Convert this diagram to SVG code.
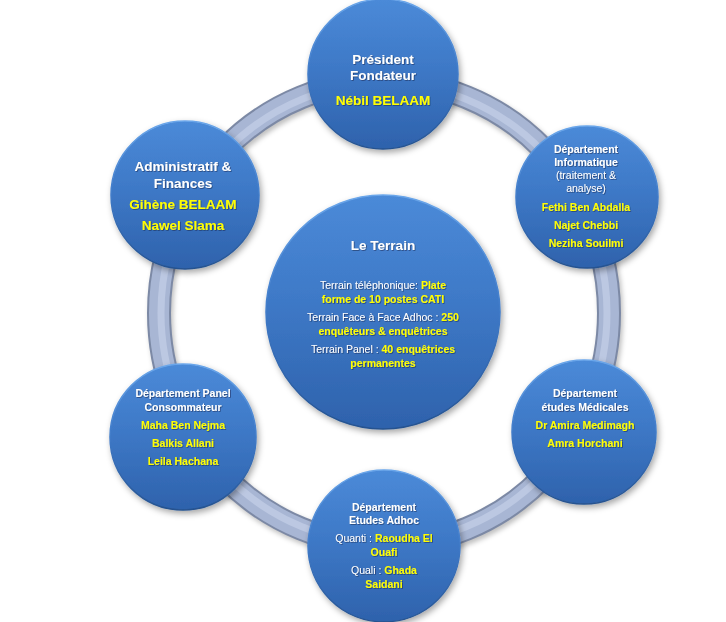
<svg xmlns="http://www.w3.org/2000/svg" width="726" height="622" viewBox="0 0 726 622">
<defs>
<linearGradient id="ball" x1="0" y1="0" x2="0" y2="1">
<stop offset="0" stop-color="#4b8ad8"/>
<stop offset="0.45" stop-color="#3e79c7"/>
<stop offset="1" stop-color="#2e62ac"/>
</linearGradient>
<linearGradient id="rim" x1="0" y1="0" x2="0" y2="1">
<stop offset="0" stop-color="#6aa6ea"/>
<stop offset="0.5" stop-color="#3f7ac8"/>
<stop offset="1" stop-color="#25528f"/>
</linearGradient>
<filter id="shadow" x="-20%" y="-20%" width="140%" height="140%">
<feDropShadow dx="2" dy="3" stdDeviation="3" flood-color="#000" flood-opacity="0.35"/>
</filter>
<filter id="ringshadow" x="-10%" y="-10%" width="120%" height="120%">
<feGaussianBlur stdDeviation="2.5"/>
</filter>
<filter id="ts" x="-10%" y="-30%" width="120%" height="160%">
<feDropShadow dx="0.8" dy="0.8" stdDeviation="0.5" flood-color="#0a1f40" flood-opacity="0.6"/>
</filter>
<style>
.node circle{fill:url(#ball);stroke:url(#rim);stroke-width:1.5;filter:url(#shadow)}
text{font-family:"Liberation Sans",Arial,sans-serif;text-anchor:middle;fill:#ffffff;filter:url(#ts)}
.b{font-weight:bold}
.y{fill:#ffff00;font-weight:bold}
.big{font-size:13.5px}
.sm{font-size:10.5px}
.ringedge{fill:none;stroke:#7c89a5;stroke-width:24}
.ringbody{fill:none;stroke:#a8b6d4;stroke-width:20}
.ringhi{fill:none;stroke:#bcc8e2;stroke-width:7}
</style>
</defs>
<rect width="726" height="622" fill="#ffffff"/>
<g id="connectors">
<ellipse cx="386" cy="316" rx="225" ry="232" fill="none" stroke="#000" stroke-opacity="0.25" stroke-width="24" filter="url(#ringshadow)"/>
<ellipse class="ringedge" cx="384" cy="313" rx="225" ry="232"/>
<ellipse class="ringbody" cx="384" cy="313" rx="225" ry="232"/>
<ellipse class="ringhi" cx="384" cy="313" rx="223" ry="230"/>
</g>
<g id="president" class="node">
<circle cx="383" cy="74" r="75"/>
<text class="big b" x="383" y="64">Président</text>
<text class="big b" x="383" y="80">Fondateur</text>
<text class="big y" x="383" y="105">Nébil BELAAM</text>
</g>
<g id="informatique" class="node">
<circle cx="587" cy="197" r="71"/>
<text class="sm b" x="586" y="153">Département</text>
<text class="sm b" x="586" y="166">Informatique</text>
<text class="sm" x="586" y="179">(traitement &amp;</text>
<text class="sm" x="586" y="192">analyse)</text>
<text class="sm y" x="586" y="211">Fethi Ben Abdalla</text>
<text class="sm y" x="586" y="229">Najet Chebbi</text>
<text class="sm y" x="586" y="247">Neziha Souilmi</text>
</g>
<g id="administratif" class="node">
<circle cx="185" cy="195" r="74"/>
<text class="big b" x="183" y="171">Administratif &amp;</text>
<text class="big b" x="183" y="188">Finances</text>
<text class="big y" x="183" y="209">Gihène BELAAM</text>
<text class="big y" x="183" y="230">Nawel Slama</text>
</g>
<g id="panel" class="node">
<circle cx="183" cy="437" r="73"/>
<text class="sm b" x="183" y="397">Département Panel</text>
<text class="sm b" x="183" y="411">Consommateur</text>
<text class="sm y" x="183" y="429">Maha Ben Nejma</text>
<text class="sm y" x="183" y="447">Balkis Allani</text>
<text class="sm y" x="183" y="465">Leila Hachana</text>
</g>
<g id="medicales" class="node">
<circle cx="584" cy="432" r="72"/>
<text class="sm b" x="585" y="397">Département</text>
<text class="sm b" x="585" y="411">études Médicales</text>
<text class="sm y" x="585" y="429">Dr Amira Medimagh</text>
<text class="sm y" x="585" y="447">Amra Horchani</text>
</g>
<g id="adhoc" class="node">
<circle cx="384" cy="546" r="76"/>
<text class="sm b" x="384" y="511">Département</text>
<text class="sm b" x="384" y="524">Etudes Adhoc</text>
<text class="sm" x="384" y="542">Quanti : <tspan class="y">Raoudha El</tspan></text>
<text class="sm y" x="384" y="556">Ouafi</text>
<text class="sm" x="384" y="574">Quali : <tspan class="y">Ghada</tspan></text>
<text class="sm y" x="384" y="588">Saidani</text>
</g>
<g id="terrain" class="node">
<circle cx="383" cy="312" r="117"/>
<text class="big b" x="383" y="250">Le Terrain</text>
<text class="sm" x="383" y="289">Terrain téléphonique: <tspan class="y">Plate</tspan></text>
<text class="sm y" x="383" y="303">forme de 10 postes CATI</text>
<text class="sm" x="383" y="321">Terrain Face à Face Adhoc : <tspan class="y">250</tspan></text>
<text class="sm y" x="383" y="335">enquêteurs &amp; enquêtrices</text>
<text class="sm" x="383" y="353">Terrain Panel : <tspan class="y">40 enquêtrices</tspan></text>
<text class="sm y" x="383" y="367">permanentes</text>
</g>
</svg>
